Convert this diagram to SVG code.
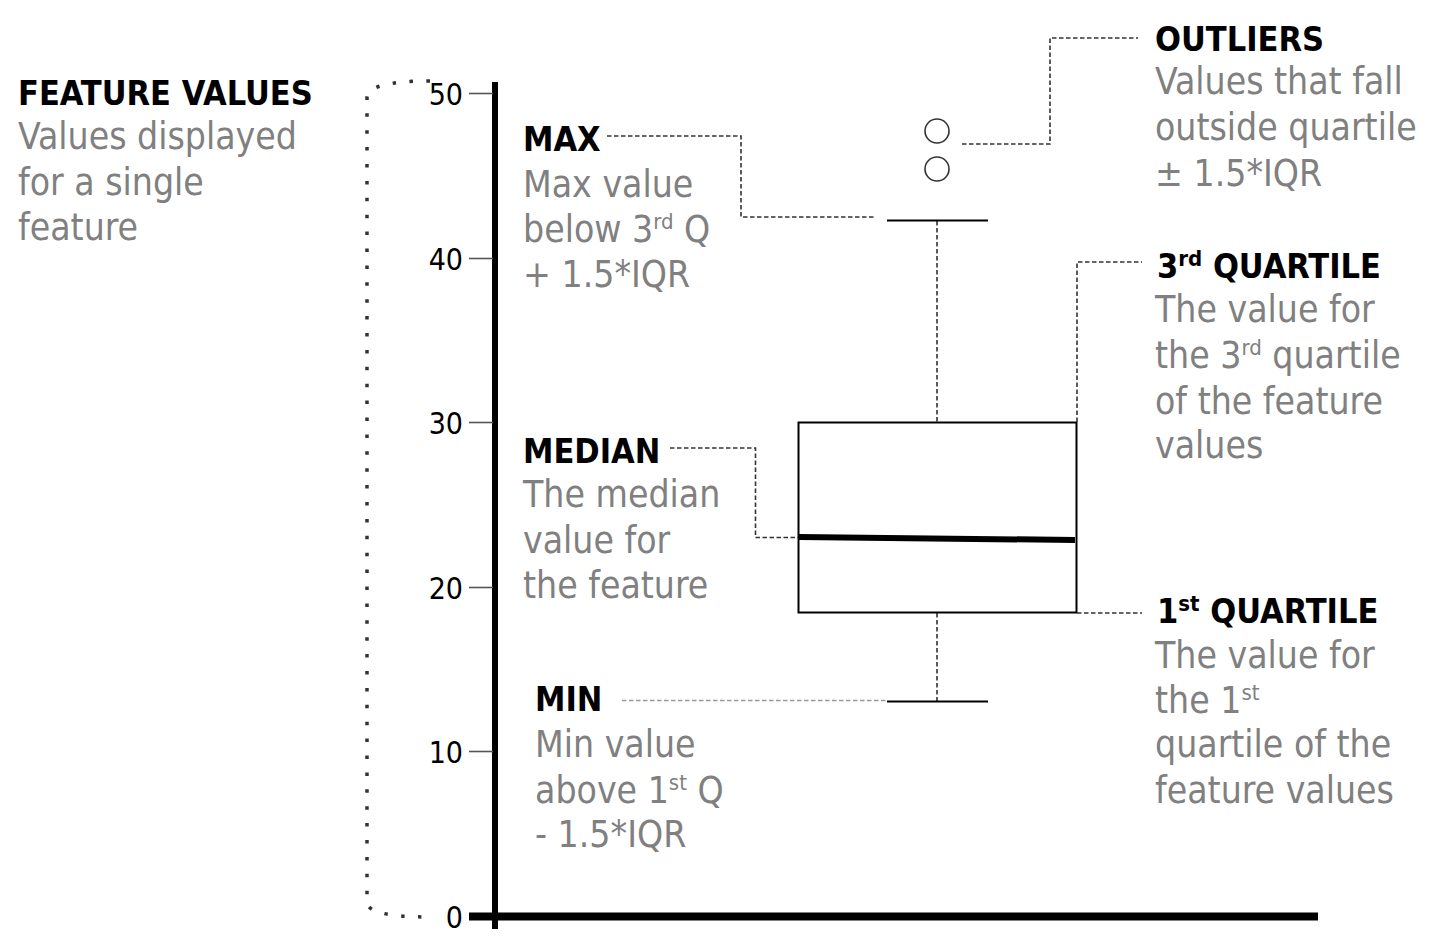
<svg xmlns="http://www.w3.org/2000/svg" width="1442" height="952" viewBox="0 0 1442 952">
<style>
text { font-family: 'DejaVu Sans Condensed', 'DejaVu Sans', sans-serif; }
.h { font-weight: bold; font-size: 34px; fill: #000; }
.b { font-size: 37px; fill: #808080; }
.t { font-size: 30px; fill: #000; text-anchor: end; }
.sup { font-size: 22px; }
.dash { fill: none; stroke: #333; stroke-width: 1.6; stroke-dasharray: 4.5 2.5; }
.dashl { fill: none; stroke: #999; stroke-width: 1.6; stroke-dasharray: 4.5 2.5; }
.solid { fill: none; stroke: #000; stroke-width: 2; }
</style>
<rect width="1442" height="952" fill="#fff"/>

<g id="axis">
  <path d="M430 81 Q367 81 367 98 L367 902 Q367 917 430 917" fill="none" stroke="#333" stroke-width="3.5" stroke-dasharray="3.5 13.4"/>
  <line x1="495" y1="82" x2="495" y2="929" stroke="#000" stroke-width="6"/>
  <line x1="469" y1="916.5" x2="1318" y2="916.5" stroke="#000" stroke-width="8"/>
  <g stroke="#555" stroke-width="1.6">
    <line x1="469" y1="93.5" x2="493" y2="93.5"/>
    <line x1="469" y1="258.5" x2="493" y2="258.5"/>
    <line x1="469" y1="422.5" x2="493" y2="422.5"/>
    <line x1="469" y1="587.5" x2="493" y2="587.5"/>
    <line x1="469" y1="751.5" x2="493" y2="751.5"/>
  </g>
  <text class="t" x="463" y="105">50</text>
  <text class="t" x="463" y="270">40</text>
  <text class="t" x="463" y="434">30</text>
  <text class="t" x="463" y="599">20</text>
  <text class="t" x="463" y="763">10</text>
  <text class="t" x="463" y="928">0</text>
</g>

<g id="boxplot">
  <line class="dash" x1="937" y1="221" x2="937" y2="423"/>
  <line class="dash" x1="937" y1="613" x2="937" y2="701"/>
  <line class="solid" x1="887" y1="220.5" x2="988" y2="220.5"/>
  <line class="solid" x1="887" y1="701.5" x2="988" y2="701.5"/>
  <rect x="798.5" y="422.5" width="278" height="190" fill="none" stroke="#000" stroke-width="2"/>
  <line x1="799" y1="537" x2="1075" y2="540" stroke="#000" stroke-width="6"/>
  <circle cx="937" cy="131" r="12" fill="none" stroke="#333" stroke-width="1.6"/>
  <circle cx="937" cy="169" r="12" fill="none" stroke="#333" stroke-width="1.6"/>
</g>

<g id="connectors">
  <path class="dash" d="M962 144 H1050 V38 H1138"/>
  <path class="dash" d="M607 136 H741 V217 H875"/>
  <path class="dash" d="M670 448 H755.5 V537.5 H798"/>
  <path class="dash" d="M1077 422 V262 H1142"/>
  <path class="dash" d="M1077 613 H1142"/>
  <path class="dashl" d="M622 700.5 H887"/>
</g>

<g id="feature-values">
  <text class="h" x="18" y="105">FEATURE VALUES</text>
  <text class="b" x="18" y="149">Values displayed</text>
  <text class="b" x="18" y="195">for a single</text>
  <text class="b" x="18" y="240">feature</text>
</g>

<g id="max">
  <text class="h" x="523" y="151">MAX</text>
  <text class="b" x="523" y="197">Max value</text>
  <text class="b" x="523" y="242">below 3<tspan class="sup" dy="-13">rd</tspan><tspan dy="13"> Q</tspan></text>
  <text class="b" x="523" y="287">+ 1.5*IQR</text>
</g>

<g id="median">
  <text class="h" x="523" y="463">MEDIAN</text>
  <text class="b" x="523" y="507">The median</text>
  <text class="b" x="523" y="553">value for</text>
  <text class="b" x="523" y="598">the feature</text>
</g>

<g id="min">
  <text class="h" x="535" y="711">MIN</text>
  <text class="b" x="535" y="757">Min value</text>
  <text class="b" x="535" y="803">above 1<tspan class="sup" dy="-13">st</tspan><tspan dy="13"> Q</tspan></text>
  <text class="b" x="535" y="847">- 1.5*IQR</text>
</g>

<g id="outliers">
  <text class="h" x="1155" y="51">OUTLIERS</text>
  <text class="b" x="1155" y="94">Values that fall</text>
  <text class="b" x="1155" y="140">outside quartile</text>
  <text class="b" x="1155" y="186">± 1.5*IQR</text>
</g>

<g id="q3">
  <text class="h" x="1157" y="278">3<tspan class="sup" dy="-12">rd</tspan><tspan dy="12"> QUARTILE</tspan></text>
  <text class="b" x="1155" y="322">The value for</text>
  <text class="b" x="1155" y="368">the 3<tspan class="sup" dy="-13">rd</tspan><tspan dy="13"> quartile</tspan></text>
  <text class="b" x="1155" y="414">of the feature</text>
  <text class="b" x="1155" y="458">values</text>
</g>

<g id="q1">
  <text class="h" x="1157" y="623">1<tspan class="sup" dy="-12">st</tspan><tspan dy="12"> QUARTILE</tspan></text>
  <text class="b" x="1155" y="668">The value for</text>
  <text class="b" x="1155" y="713">the 1<tspan class="sup" dy="-13">st</tspan></text>
  <text class="b" x="1155" y="757">quartile of the</text>
  <text class="b" x="1155" y="803">feature values</text>
</g>
</svg>
